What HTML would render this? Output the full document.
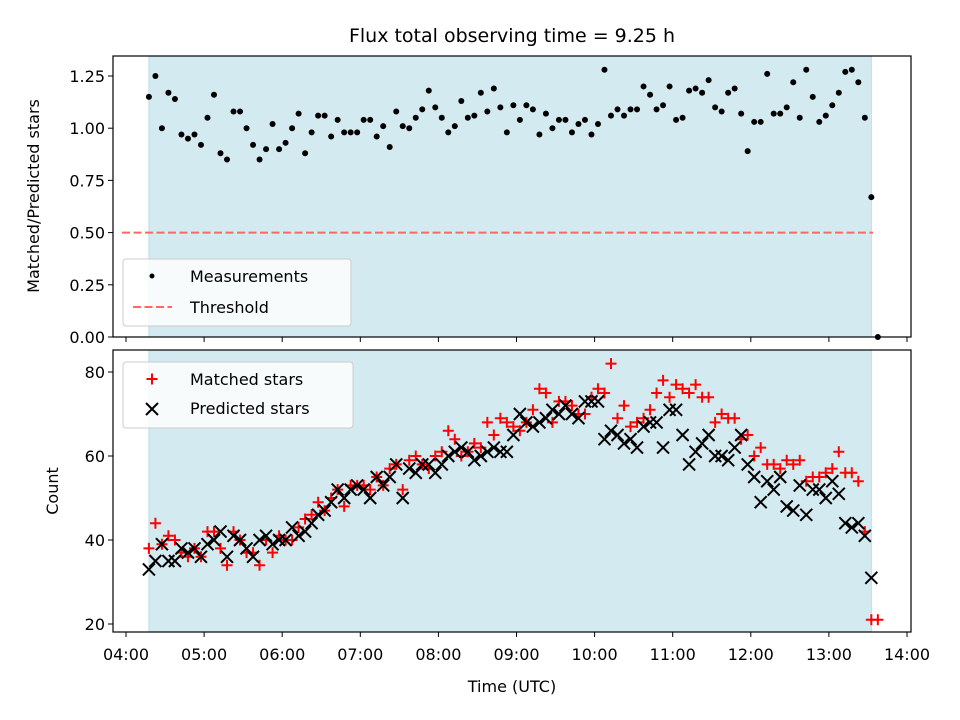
<!DOCTYPE html>
<html><head><meta charset="utf-8"><style>
body{margin:0;background:#fff}
svg{display:block;font-family:"DejaVu Sans","Liberation Sans",sans-serif}
</style></head><body>
<svg id="chart" width="960" height="720" viewBox="0 0 960 720" xmlns="http://www.w3.org/2000/svg"></svg>
<script>
const ratioValues=[1.15,1.25,1.00,1.17,1.14,0.97,0.95,0.97,0.92,1.05,1.16,0.88,0.85,1.08,1.08,1.00,0.92,0.85,0.90,1.02,0.90,0.93,1.00,1.07,0.88,0.98,1.06,1.06,0.96,1.04,0.98,0.98,0.98,1.04,1.04,0.96,1.01,0.91,1.08,1.01,1.00,1.05,1.09,1.18,1.10,1.05,0.98,1.01,1.13,1.05,1.06,1.17,1.08,1.19,1.10,0.98,
1.11,1.04,1.11,1.09,0.97,1.07,1.00,1.04,1.04,0.98,1.02,1.04,0.97,1.02,1.28,1.06,1.09,1.06,1.09,1.09,1.20,1.16,1.09,1.11,1.20,1.04,1.05,1.18,1.19,1.17,1.23,1.10,1.08,1.17,1.19,1.07,0.89,1.03,1.03,1.26,1.07,1.07,1.10,1.22,1.05,1.28,1.15,1.03,1.06,1.11,1.17,1.27,1.28,1.22,1.05,0.67,0.00];
const predictedStars=[33,35,39,35,35,38,37,38,36,39,40,42,36,41,40,38,36,40,41,39,40,40,43,41,42,44,46,47,49,52,50,52,53,52,50,55,53,55,58,50,57,56,58,58,56,58,60,61,62,61,59,60,61,62,61,61,65,70,68,67,68,69,71,70,72,70,69,73,73,73,64,66,65,63,64,62,67,68,68,62,71,71,65,58,61,63,65,60,60,59,62,65,58,55,49,54,52,55,48,47,53,46,52,52,50,54,51,44,43,44,41,31,null];
const matchedStars=[38,44,39,41,40,37,36,38,36,42,42,38,34,42,40,37,37,34,40,37,41,40,40,43,45,46,49,47,50,52,48,53,53,53,52,55,53,57,58,52,59,60,58,57,60,61,66,64,60,61,63,62,68,65,69,68,67,66,68,71,76,75,68,73,73,72,70,70,74,76,75,82,69,72,67,68,69,71,75,78,74,77,76,75,77,74,74,68,70,69,69,64,65,60,62,58,58,57,59,58,59,54,55,55,56,57,61,56,56,54,42,21,21];
const startMinutes=4*60+17.6;
const stepMinutes=5;
const xTickLabels=["04:00","05:00","06:00","07:00","08:00","09:00","10:00","11:00","12:00","13:00","14:00"];
const topYTicks=[0,0.25,0.5,0.75,1.0,1.25];
const botYTicks=[20,40,60,80];
const threshold=0.5;

const FS=16;
const NS="http://www.w3.org/2000/svg";
const svg=document.getElementById('chart');
function mk(tag,attrs,parent){const e=document.createElementNS(NS,tag);for(const k in attrs)e.setAttribute(k,attrs[k]);(parent||svg).appendChild(e);return e;}
const L=113,R=911;
const xMin=4*60-13/78.1*60, xMax=14*60+4/78.1*60;
function xs(m){return L+(m-xMin)/(xMax-xMin)*(R-L);}
const T1=56,B1=337; function y1(v){return 337-v*208.8;}
const T2=350,B2=632; function y2(v){return 624-(v-20)*4.2;}
const times=ratioValues.map((_,i)=>startMinutes+i*stepMinutes);
const spanL=xs(times[0]), spanR=xs(times[times.length-2]);

function axes(top,bot,name){
  const g=mk('g',{});
  
  
  const s=mk('rect',{x:spanL,y:top,width:spanR-spanL,height:bot-top,fill:'#d4eaf1',stroke:'#bddde8'},g);
  
  
  return g;
}
function frame(top,bot,g){mk('rect',{x:L,y:top,width:R-L,height:bot-top,fill:'none',stroke:'#000','stroke-width':1.2},g);}
function xTicks(bot,labels,g){
  xTickLabels.forEach((t,i)=>{const x=xs((4+i)*60);mk('line',{x1:x,x2:x,y1:bot,y2:bot+5,stroke:'#000'},g);
    if(labels){const tx=mk('text',{x:x,y:bot+28,'font-size':FS,'text-anchor':'middle'},g);tx.textContent=t;
      
      }});
}
// top
const g1=axes(T1,B1,'ratio-axes');
const th=mk('line',{x1:122,x2:873,y1:y1(threshold),y2:y1(threshold),stroke:'#ff6666','stroke-width':2,'stroke-dasharray':'8,3.5'},g1);


ratioValues.forEach((v,i)=>{const c=mk('circle',{cx:xs(times[i]),cy:y1(v),r:3,fill:'#000'},g1);
  
  });
topYTicks.forEach(v=>{const y=y1(v);mk('line',{x1:L-5,x2:L,y1:y,y2:y,stroke:'#000'},g1);
  const t=mk('text',{x:L-8,y:y+6,'font-size':FS,'text-anchor':'end'},g1);t.textContent=v.toFixed(2);
  
  });
xTicks(B1,false,g1);
frame(T1,B1,g1);
// top legend
const lg1=mk('g',{});


mk('rect',{x:123,y:259,width:228,height:67,rx:3,fill:'#fff','fill-opacity':0.8,stroke:'#ccc'},lg1);
mk('circle',{cx:152,cy:276,r:2.5,fill:'#000'},lg1);
let t=mk('text',{x:190,y:282,'font-size':FS},lg1);t.textContent='Measurements';
mk('line',{x1:133,x2:172,y1:307,y2:307,stroke:'#ff6666','stroke-width':2,'stroke-dasharray':'8,3.5'},lg1);
t=mk('text',{x:190,y:313,'font-size':FS},lg1);t.textContent='Threshold';

// bottom
const g2=axes(T2,B2,'count-axes');
function plus(x,y,g){return mk('path',{d:`M${x-5.5} ${y}H${x+5.5}M${x} ${y-5.5}V${y+5.5}`,stroke:'#ff0000','stroke-width':2},g);}
function cross(x,y,g){return mk('path',{d:`M${x-6} ${y-6}L${x+6} ${y+6}M${x-6} ${y+6}L${x+6} ${y-6}`,stroke:'#000','stroke-width':2},g);}
matchedStars.forEach((v,i)=>{if(v==null)return;const p=plus(xs(times[i]),y2(v),g2);
  
  });
predictedStars.forEach((v,i)=>{if(v==null)return;const p=cross(xs(times[i]),y2(v),g2);
  
  });
botYTicks.forEach(v=>{const y=y2(v);mk('line',{x1:L-5,x2:L,y1:y,y2:y,stroke:'#000'},g2);
  const tt=mk('text',{x:L-8,y:y+6,'font-size':FS,'text-anchor':'end'},g2);tt.textContent=v;
  
  });
xTicks(B2,true,g2);
frame(T2,B2,g2);
const lg2=mk('g',{});


mk('rect',{x:123,y:362,width:230,height:66,rx:3,fill:'#fff','fill-opacity':0.8,stroke:'#ccc'},lg2);
plus(152,379,lg2);cross(152,409,lg2);
t=mk('text',{x:190,y:385,'font-size':FS},lg2);t.textContent='Matched stars';
t=mk('text',{x:190,y:414,'font-size':FS},lg2);t.textContent='Predicted stars';

// titles
t=mk('text',{x:512,y:42,'font-size':19,'text-anchor':'middle'});t.textContent='Flux total observing time = 9.25 h';


t=mk('text',{x:512,y:692,'font-size':FS,'text-anchor':'middle'});t.textContent='Time (UTC)';


t=mk('text',{x:0,y:0,'font-size':FS,'text-anchor':'middle',transform:'translate(39,196) rotate(-90)'});t.textContent='Matched/Predicted stars';


t=mk('text',{x:0,y:0,'font-size':FS,'text-anchor':'middle',transform:'translate(58,491) rotate(-90)'});t.textContent='Count';


</script>
</body></html>
